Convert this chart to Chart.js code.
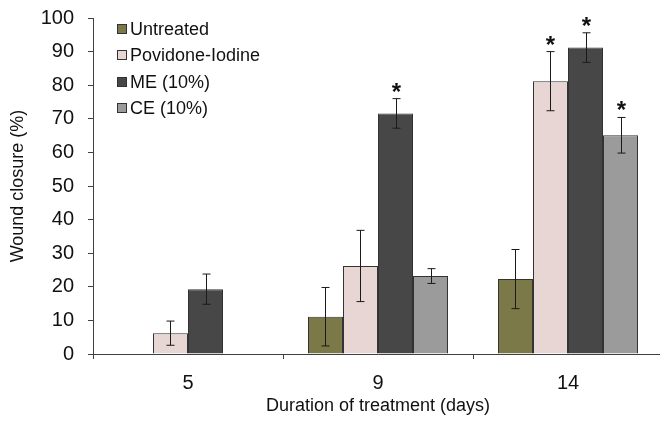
<!DOCTYPE html>
<html>
<head>
<meta charset="utf-8">
<script src="https://cdn.jsdelivr.net/npm/chart.js@4.4.0/dist/chart.umd.min.js"></script>
<style>
  html, body { margin: 0; padding: 0; background: #fff; overflow: hidden; }
  #wrap { position: absolute; left: 0; top: 0; width: 670px; height: 425px; }
</style>
</head>
<body>
<div id="wrap"><canvas id="chart" width="670" height="425"></canvas></div>
<script>
// days of treatment
const days = ['5', '9', '14'];

const seriesNames = ['Untreated', 'Povidone-Iodine', 'ME (10%)', 'CE (10%)'];

// mean wound closure (%)
const untreated = [null, 11.1, 22.3];
const povidone = [6.2, 26.2, 81.2];
const me10 = [19.3, 71.6, 91.2];
const ce10 = [null, 23.2, 65.1];

// error (+/-)
const untreatedErr = [null, 8.7, 8.8];
const povidoneErr = [3.6, 10.6, 8.8];
const me10Err = [4.5, 4.4, 4.4];
const ce10Err = [null, 2.2, 5.3];

// significance marks (*)
const untreatedStar = [false, false, false];
const povidoneStar = [false, false, true];
const me10Star = [false, true, true];
const ce10Star = [false, false, true];

const yTicks = [0, 10, 20, 30, 40, 50, 60, 70, 80, 90, 100];

const colors = ['#7b7947', '#e8d6d5', '#474747', '#9b9b9b'];
const FONT = '"Liberation Sans", Arial, sans-serif';

const values = [untreated, povidone, me10, ce10];
const errors = [untreatedErr, povidoneErr, me10Err, ce10Err];
const stars = [untreatedStar, povidoneStar, me10Star, ce10Star];

const errorBars = {
  id: 'errorBars',
  afterDatasetsDraw(chart) {
    const ctx = chart.ctx;
    const y = chart.scales.y;
    ctx.save();
    chart.data.datasets.forEach((ds, i) => {
      const meta = chart.getDatasetMeta(i);
      meta.data.forEach((bar, j) => {
        const v = values[i][j];
        const e = errors[i][j];
        if (v == null || e == null) return;
        const x = Math.round(bar.x) + 0.5;
        const top = y.getPixelForValue(v + e);
        const bot = y.getPixelForValue(v - e);
        ctx.strokeStyle = '#1a1a1a';
        ctx.lineWidth = 1;
        ctx.beginPath();
        ctx.moveTo(x, top); ctx.lineTo(x, bot);
        ctx.moveTo(x - 4, top); ctx.lineTo(x + 4, top);
        ctx.moveTo(x - 4, bot); ctx.lineTo(x + 4, bot);
        ctx.stroke();
        if (stars[i][j]) {
          ctx.fillStyle = '#111';
          ctx.font = 'bold 24px ' + FONT;
          ctx.textAlign = 'center';
          ctx.textBaseline = 'alphabetic';
          ctx.fillText('*', x, top + 1);
        }
      });
    });
    ctx.restore();
  }
};

const boxLegend = {
  id: 'boxLegend',
  afterDraw(chart) {
    const ctx = chart.ctx;
    ctx.save();
    ctx.font = '18px ' + FONT;
    ctx.textBaseline = 'middle';
    ctx.textAlign = 'left';
    seriesNames.forEach((name, i) => {
      const cy = 29 + i * 26.4;
      ctx.fillStyle = colors[i];
      ctx.fillRect(117, Math.round(cy) - 5, 10, 10);
      ctx.strokeStyle = '#333';
      ctx.lineWidth = 1;
      ctx.strokeRect(117.5, Math.round(cy) - 4.5, 9, 9);
      ctx.fillStyle = '#111';
      ctx.fillText(name, 130, cy + 1);
    });
    ctx.restore();
  }
};

new Chart(document.getElementById('chart'), {
  type: 'bar',
  data: {
    labels: days,
    datasets: seriesNames.map((name, i) => ({
      label: name,
      data: values[i],
      backgroundColor: colors[i],
      borderColor: '#333',
      borderWidth: 1,
      categoryPercentage: 0.737,
      barPercentage: 1.0
    }))
  },
  options: {
    responsive: false,
    animation: false,
    devicePixelRatio: 1,
    layout: { padding: { left: 0, top: 18, right: 7, bottom: 0 } },
    plugins: {
      legend: { display: false },
      tooltip: { enabled: false }
    },
    scales: {
      x: {
        offset: true,
        grid: {
          offset: true,
          drawOnChartArea: false,
          tickLength: 5,
          color: '#404040'
        },
        border: { color: '#404040', width: 1 },
        ticks: { color: '#111', font: { family: FONT, size: 20 }, padding: 12 },
        title: {
          display: true,
          text: 'Duration of treatment (days)',
          color: '#111',
          font: { family: FONT, size: 18 },
          padding: { top: 0, bottom: 8 }
        },
        afterFit(scale) { scale.height = 71; }
      },
      y: {
        min: 0,
        max: 100,
        afterBuildTicks(scale) { scale.ticks = yTicks.map(v => ({ value: v })); },
        grid: {
          drawOnChartArea: false,
          tickLength: 5,
          color: '#404040'
        },
        border: { color: '#404040', width: 1 },
        ticks: { color: '#111', font: { family: FONT, size: 20 }, padding: 14 },
        title: {
          display: true,
          text: 'Wound closure (%)',
          color: '#111',
          font: { family: FONT, size: 18 },
          padding: { top: 7, bottom: 0 }
        },
        afterFit(scale) {
          scale.width = 93;
          scale.paddingTop = 0;
          scale.paddingBottom = 0;
        }
      }
    }
  },
  plugins: [errorBars, boxLegend]
});
</script>
</body>
</html>
